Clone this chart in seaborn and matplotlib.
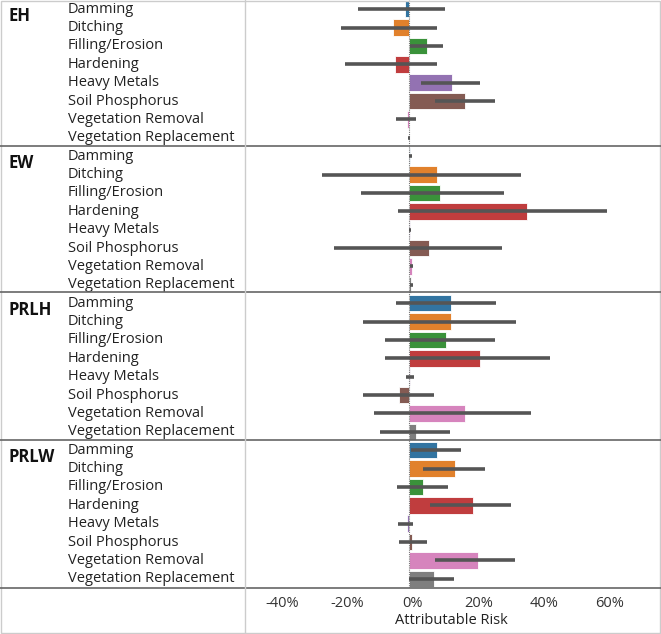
import numpy as np
import pandas as pd
import matplotlib
matplotlib.use("Agg")
import matplotlib.pyplot as plt
import matplotlib.transforms as mtransforms
from matplotlib.lines import Line2D
import seaborn as sns

groups = ["EH", "EW", "PRLH", "PRLW"]
stressors = ["Damming", "Ditching", "Filling/Erosion", "Hardening", "Heavy Metals",
             "Soil Phosphorus", "Vegetation Removal", "Vegetation Replacement"]

# Attributable risk (%) and confidence limits
eh_ar = [-1.3, -4.9, 5.6, -4.2, 13.1, 17.2, -0.7, 0.1]
eh_lo = [-15.6, -20.8, 0.3, -19.6, 3.6, 8.1, -3.8, -0.2]
eh_hi = [11.0, 8.7, 10.3, 8.7, 21.8, 26.2, 2.2, 0.3]

ew_ar = [0.4, 8.7, 9.4, 35.9, 0.3, 6.0, 0.9, 0.5]
ew_lo = [0.0, -26.6, -14.6, -3.2, 0.0, -22.9, 0.3, 0.2]
ew_hi = [0.8, 34.3, 28.9, 60.4, 0.5, 28.4, 1.3, 1.3]

prlh_ar = [12.7, 12.7, 11.2, 21.8, 0.3, -3.1, 17.0, 2.2]
prlh_lo = [-3.8, -13.9, -7.2, -7.4, -0.8, -14.1, -10.7, -8.7]
prlh_hi = [26.6, 32.6, 26.3, 43.0, 1.5, 7.7, 37.4, 12.6]

prlw_ar = [8.6, 14.1, 4.4, 19.5, -0.7, 1.0, 21.2, 7.7]
prlw_lo = [0.5, 4.4, -3.5, 6.4, -3.2, -3.0, 8.1, 0.0]
prlw_hi = [16.0, 23.3, 11.9, 31.3, 1.4, 5.4, 32.5, 13.8]

xticks = [-40, -20, 0, 20, 40, 60]
xtick_labels = ["-40%", "-20%", "0%", "20%", "40%", "60%"]

colors = ["#1f77b4", "#ff7f0e", "#2ca02c", "#d62728", "#9467bd", "#8c564b", "#e377c2", "#7f7f7f"]

ar_all = [eh_ar, ew_ar, prlh_ar, prlw_ar]
lo_all = [eh_lo, ew_lo, prlh_lo, prlw_lo]
hi_all = [eh_hi, ew_hi, prlh_hi, prlw_hi]

rows = []
for g, ar, lo, hi in zip(groups, ar_all, lo_all, hi_all):
    for s, a, l, h in zip(stressors, ar, lo, hi):
        rows.append({"row": f"{g}|{s}", "group": g, "stressor": s, "ar": a, "lo": l, "hi": h})
df = pd.DataFrame(rows)
order = list(df["row"])

sns.set_style("white")
plt.rcParams["font.family"] = ["Open Sans", "DejaVu Sans"]

W, H = 661, 634
fig = plt.figure(figsize=(W / 100, H / 100), dpi=100)
ax = fig.add_axes([245 / W, (H - 588) / H, 413 / W, 588 / H])

sns.barplot(data=df, y="row", x="ar", hue="stressor", order=order, hue_order=stressors,
            palette=colors, dodge=False, width=0.9, errorbar=None, legend=False,
            edgecolor="white", linewidth=0.6, ax=ax)

pos = np.arange(len(order))
ax.hlines(pos, df["lo"], df["hi"], color="#555555", linewidth=2.6, zorder=5)
ax.axvline(0, color="#777777", linewidth=0.8, linestyle=(0, (1, 1)), zorder=1)

ax.set_xlim(-50, 76)
ax.set_ylim(len(order) - 0.5, -0.5)
ax.set_xticks(xticks)
ax.set_xticklabels(xtick_labels, fontsize=10.5, color="#333333")
ax.tick_params(axis="x", length=0, pad=6)
offset = mtransforms.ScaledTranslation(4 / 100, 0, fig.dpi_scale_trans)
for lab in ax.get_xticklabels():
    lab.set_transform(lab.get_transform() + offset)
ax.set_yticks([])
ax.set_ylabel("")
ax.set_xlabel("Attributable Risk", fontsize=10.5, color="#222222", labelpad=1)
for sp in ax.spines.values():
    sp.set_visible(False)

trans = mtransforms.blended_transform_factory(fig.transFigure, ax.transData)
for i, r in df.iterrows():
    ax.text(68 / W, i, r["stressor"], transform=trans, ha="left", va="center",
            fontsize=10.5, color="#222222", clip_on=False)
    if r["stressor"] == stressors[0]:
        ax.text(8 / W, i + 0.35, r["group"], transform=trans, ha="left", va="center",
                fontsize=12, fontweight="bold", color="#111111", clip_on=False)

# dividers
for yb in [146, 292, 440, 588]:
    fig.add_artist(Line2D([0, 1], [1 - yb / H, 1 - yb / H], transform=fig.transFigure,
                          color="#666666", linewidth=1.2))
fig.add_artist(Line2D([245 / W, 245 / W], [0, 1], transform=fig.transFigure,
                      color="#cccccc", linewidth=1.0))
# outer border
fig.add_artist(plt.Rectangle((0.001, 0.001), 0.997, 0.997, transform=fig.transFigure,
                             fill=False, edgecolor="#cccccc", linewidth=1.0))

fig.savefig("out.png", dpi=100)
